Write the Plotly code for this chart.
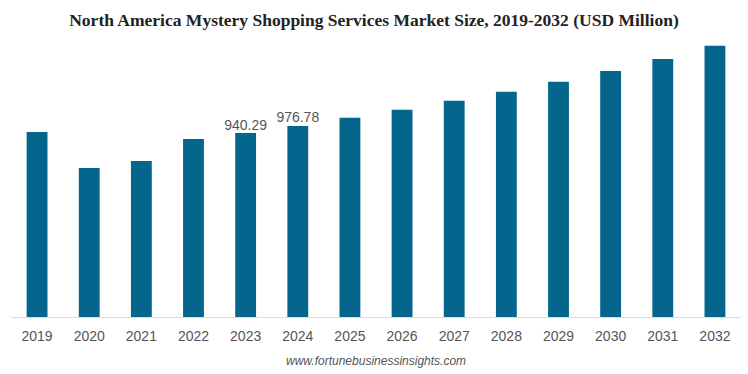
import plotly.graph_objects as go

years = [str(y) for y in range(2019, 2033)]
values = [946, 762, 798, 910, 940.29, 976.78, 1018, 1059, 1105, 1151, 1202, 1258, 1319, 1386]
label_years = ["2023", "2024"]
label_values = [940.29, 976.78]

fig = go.Figure()
fig.add_trace(go.Bar(
    x=years, y=values,
    marker=dict(color="#05668d", line=dict(width=0)),
    width=0.4, hoverinfo="x+y",
))
fig.add_trace(go.Scatter(
    x=label_years, y=label_values, mode="text",
    text=[f"{v:.2f}" for v in label_values], textposition="top center",
    textfont=dict(family="Liberation Sans, Arial", size=14, color="#555555"),
    cliponaxis=False, hoverinfo="skip", showlegend=False,
))
fig.update_layout(
    width=748, height=374,
    margin=dict(l=11, r=7, t=40, b=57),
    paper_bgcolor="white", plot_bgcolor="white",
    showlegend=False,
    title=dict(text="<b>North America Mystery Shopping Services Market Size, 2019-2032 (USD Million)</b>",
               x=0.5, xanchor="center", y=0.948, yanchor="middle",
               font=dict(family="Liberation Serif, Times New Roman", size=17.5, color="#222222")),
    xaxis=dict(showline=True, linecolor="#dddddd", linewidth=1,
               ticks="outside", ticklen=6, tickcolor="rgba(0,0,0,0)",
               tickfont=dict(family="Liberation Sans, Arial", size=14, color="#555555")),
    yaxis=dict(visible=False, range=[0, 1416], showgrid=False),
    annotations=[dict(text="<i>www.fortunebusinessinsights.com</i>", x=0.5, xref="paper",
                      y=-0.16, yref="paper", yanchor="middle", showarrow=False,
                      font=dict(family="Liberation Sans, Arial", size=12, color="#555555"))],
)
fig.write_html("out.html", config={"displayModeBar": False},
               post_script="document.body.style.margin='0';")
